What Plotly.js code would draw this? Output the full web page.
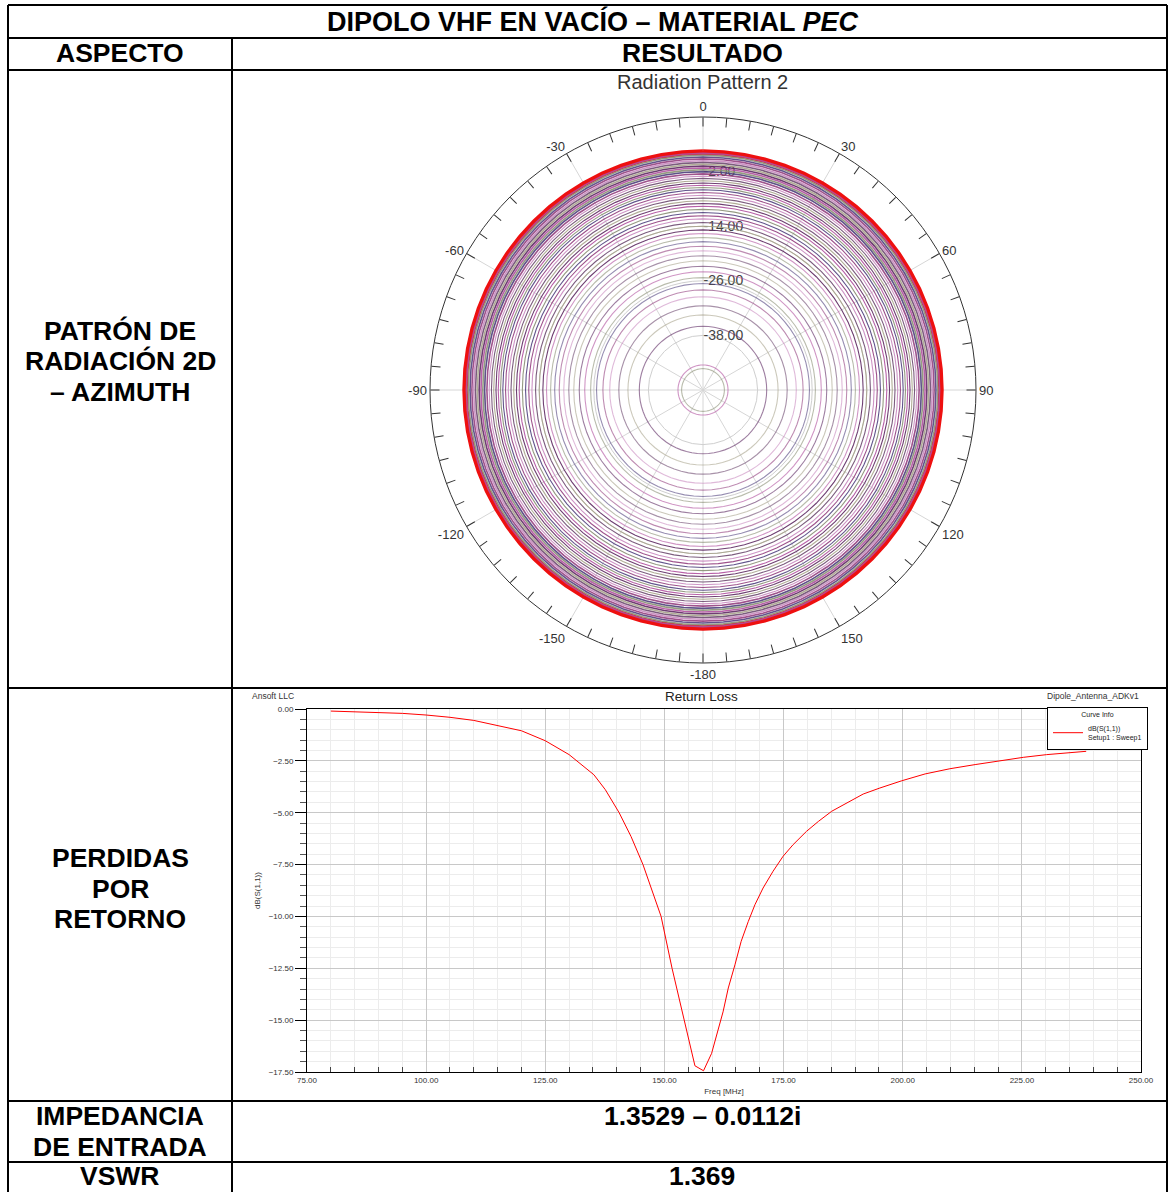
<!DOCTYPE html>
<html>
<head>
<meta charset="utf-8">
<script src="https://cdn.plot.ly/plotly-3.0.1.min.js"></script>
<style>
html,body{margin:0;padding:0;background:#fff;}
#chart{width:1168px;height:1192px;}
</style>
</head>
<body>
<div id="chart"></div>
<script>
// ---------------- DATA ----------------
// Radiation pattern (azimuth): gain levels (dB) of the swept curves
const patternLevels = [2.3, 2.0, 1.6, 1.2, 0.8, 0.4, 0.0, -0.4, -0.8, -1.2, -1.6, -2.0, -2.5, -3.0, -3.5,
  -4.0, -4.5, -5.0, -5.5, -6.0, -6.6, -7.2, -7.8, -8.4, -9.0, -9.6, -10.3, -11.0, -11.7, -12.4,
  -13.2, -14.0, -14.8, -15.6, -16.5, -17.4, -18.4, -19.4, -20.5, -21.6, -22.8, -24.0, -25.3,
  -26.6, -28.0, -29.5, -31.5, -33.5, -36.0, -44.5, -45.3];
const angleTicks = [0,5,10,15,20,25,30,35,40,45,50,55,60,65,70,75,80,85,90,95,100,105,110,115,
  120,125,130,135,140,145,150,155,160,165,170,175,180,185,190,195,200,205,210,215,220,225,230,235,
  240,245,250,255,260,265,270,275,280,285,290,295,300,305,310,315,320,325,330,335,340,345,350,355];
const angleLabelMap = {0:'0',30:'30',60:'60',90:'90',120:'120',150:'150',180:'-180',210:'-150',
  240:'-120',270:'-90',300:'-60',330:'-30'};
const gridAngles = [0,30,60,90,120,150,180,210,240,270,300,330];
const radialTicks = [-38, -26, -14, -2];
const radialLabels = ['-38.00', '-26.00', '-14.00', '-2.00'];

// Return loss dB(S(1,1)) vs frequency (MHz)
const freqMHz = [80, 85, 90, 95, 100, 105, 110, 115, 120, 125, 130, 135.2, 137.6, 140.5,
  143, 145.5, 147.4, 149.3, 151.6, 153.4, 156.4, 158.2, 159.9, 162.3, 163.4, 164.8, 166.1, 167.6,
  169, 170.7, 172.8, 174.9, 177, 179.8, 182.3, 185.1, 188.2, 191.7, 195.2, 199.8, 204.7, 209.9,
  215.2, 220.4, 225.3, 230.2, 238.5];
const s11dB = [-0.10, -0.14, -0.15, -0.21, -0.29, -0.40, -0.55, -0.79, -1.05, -1.53, -2.20,
  -3.17, -3.89, -5.00, -6.15, -7.50, -8.70, -10.00, -12.50, -14.3, -17.2, -17.44, -16.6, -14.6,
  -13.45, -12.33, -11.2, -10.24, -9.43, -8.63, -7.82, -7.10, -6.54, -5.90, -5.42, -4.93, -4.53,
  -4.10, -3.81, -3.46, -3.13, -2.88, -2.68, -2.49, -2.33, -2.20, -2.04];

// Table texts
const headerTitle = 'DIPOLO VHF EN VACÍO – MATERIAL <i>PEC</i>';
const colHeaders = ['ASPECTO', 'RESULTADO'];
const rowLabels = [['PATRÓN DE', 'RADIACIÓN 2D', '– AZIMUTH'], ['PERDIDAS', 'POR', 'RETORNO'],
  ['IMPEDANCIA', 'DE ENTRADA'], ['VSWR']];
const impedanceText = '1.3529 – 0.0112i';
const vswrText = '1.369';

// ---------------- LAYOUT HELPERS ----------------
const W = 1168, H = 1192;
const px = x => x / W;
const py = y => 1 - y / H;
const FONT = 'Liberation Sans, Arial, sans-serif';
const palette = ['#5e2a62', '#b0509f', '#8a8f74', '#51427f', '#93407f', '#c98ac0', '#6e4a70', '#a9a48c'];

const thetaPts = angleTicks.concat([360]);
const traces = [];
// empty trace so that the grid/label polar subplot is drawn
traces.push({type: 'scatterpolar', subplot: 'polar', mode: 'lines', r: [], theta: [], showlegend: false, hoverinfo: 'skip'});
patternLevels.forEach((lv, i) => {
  const isRed = i === 0;
  const outer = lv > -3;
  traces.push({
    type: 'scatterpolar', subplot: 'polar2', mode: 'lines',
    theta: thetaPts, r: thetaPts.map(() => lv),
    line: {color: isRed ? '#ee1010' : palette[i % palette.length], width: isRed ? 5.5 : (outer ? 1.6 : 1.1)},
    opacity: isRed ? 1 : (lv > -15 ? 0.9 : 0.6),
    showlegend: false, hoverinfo: 'skip'
  });
});
traces.push({
  type: 'scatter', mode: 'lines', x: freqMHz, y: s11dB, xaxis: 'x', yaxis: 'y',
  name: 'dB(S(1,1))<br>Setup1 : Sweep1', line: {color: '#ff0000', width: 1}, showlegend: true
});

const polarDomain = {x: [px(430), px(976)], y: [py(663), py(117)]};

const shapes = [];
const hline = (y, x0, x1) => shapes.push({type: 'line', xref: 'paper', yref: 'paper', x0: px(x0), x1: px(x1), y0: py(y), y1: py(y), line: {color: '#000', width: 2}});
const vline = (x, y0, y1) => shapes.push({type: 'line', xref: 'paper', yref: 'paper', x0: px(x), x1: px(x), y0: py(y0), y1: py(y1), line: {color: '#000', width: 2}});
[5, 38, 70, 688, 1101, 1162].forEach(y => hline(y, 8, 1167));
vline(8, 5, 1192); vline(1167, 5, 1192); vline(232, 38, 1192);

const ann = [];
const txt = (text, x, y, size, opts = {}) => ann.push(Object.assign({
  text, xref: 'paper', yref: 'paper', x: px(x), y: py(y), showarrow: false,
  xanchor: 'center', yanchor: 'middle',
  font: {family: FONT, size, color: opts.color || '#000'}
}, opts.extra || {}));
txt('<b>' + headerTitle + '</b>', 593, 21, 27);
txt('<b>' + colHeaders[0] + '</b>', 120, 53, 26.5);
txt('<b>' + colHeaders[1] + '</b>', 702, 53, 26.5);
rowLabels[0].forEach((t, i) => txt('<b>' + t + '</b>', 120, 331 + i * 30.5, 26.5));
rowLabels[1].forEach((t, i) => txt('<b>' + t + '</b>', 120, 858 + i * 30.5, 26.5));
rowLabels[2].forEach((t, i) => txt('<b>' + t + '</b>', 120, 1116 + i * 30.5, 26.5));
txt('<b>' + rowLabels[3][0] + '</b>', 120, 1176, 26.5);
txt('<b>' + impedanceText + '</b>', 702, 1116, 26.5);
txt('<b>' + vswrText + '</b>', 702, 1176, 26.5);
txt('Radiation Pattern 2', 702, 82, 20, {color: '#333'});
txt('Ansoft LLC', 273, 696, 8.5, {color: '#333'});
txt('Return Loss', 701, 697, 13.5, {color: '#222'});
txt('Dipole_Antenna_ADKv1', 1093, 696, 8.5, {color: '#333'});

const layout = {
  width: W, height: H, margin: {l: 0, r: 0, t: 0, b: 0},
  paper_bgcolor: '#fff', plot_bgcolor: '#fff', font: {family: FONT},
  showlegend: true,
  legend: {
    x: px(1148), xanchor: 'right', y: py(707), yanchor: 'top',
    bgcolor: '#fff', bordercolor: '#000', borderwidth: 1,
    font: {family: FONT, size: 7, color: '#222'},
    title: {text: 'Curve Info', side: 'top center', font: {family: FONT, size: 7, color: '#222'}},
    itemwidth: 30, tracegroupgap: 0
  },
  polar: {
    domain: polarDomain, bgcolor: '#fff',
    angularaxis: {rotation: 90, direction: 'clockwise', tickvals: gridAngles, showticklabels: false,
      ticks: '', showline: false, showgrid: true, gridcolor: '#d6d6d6', gridwidth: 1},
    radialaxis: {range: [-50, 10], tickvals: radialTicks, ticktext: radialLabels, angle: 90,
      tickangle: 90, showline: false, ticks: '', showgrid: true, gridcolor: '#cfcfcf',
      tickfont: {family: FONT, size: 14, color: '#444'}}
  },
  polar2: {
    domain: polarDomain, bgcolor: 'rgba(0,0,0,0)',
    angularaxis: {rotation: 90, direction: 'clockwise', tickvals: angleTicks,
      ticktext: angleTicks.map(a => angleLabelMap[a] !== undefined ? angleLabelMap[a] : ''),
      ticks: 'inside', ticklen: 9, tickcolor: '#333', tickwidth: 1,
      showline: true, linecolor: '#333', linewidth: 1, showgrid: false,
      tickfont: {family: FONT, size: 13, color: '#333'}},
    radialaxis: {range: [-50, 10], visible: false}
  },
  xaxis: {
    domain: [px(307), px(1141)], range: [75, 250], tick0: 75, dtick: 25, tickformat: '.2f',
    showline: true, mirror: true, linecolor: '#000', linewidth: 1,
    showgrid: true, gridcolor: '#c8c8c8', zeroline: false, ticks: '',
    tickfont: {family: FONT, size: 8, color: '#333'},
    minor: {dtick: 5, showgrid: true, gridcolor: '#ececec', ticks: 'inside', ticklen: 5, tickcolor: '#444'},
    title: {text: 'Freq [MHz]', font: {family: FONT, size: 8, color: '#333'}, standoff: 4}
  },
  yaxis: {
    domain: [py(1072), py(709)], range: [-17.5, 0], tick0: 0, dtick: 2.5, tickformat: '.2f',
    showline: true, mirror: true, linecolor: '#000', linewidth: 1,
    showgrid: true, gridcolor: '#c8c8c8', zeroline: false, ticks: 'outside', ticklen: 11, tickcolor: '#000',
    tickfont: {family: FONT, size: 8, color: '#333'},
    minor: {dtick: 0.5, showgrid: true, gridcolor: '#ececec', ticks: 'outside', ticklen: 6, tickcolor: '#555'},
    title: {text: 'dB(S(1,1))', font: {family: FONT, size: 8, color: '#333'}, standoff: 6}
  },
  shapes, annotations: ann
};

Plotly.newPlot('chart', traces, layout, {displayModeBar: false, staticPlot: true});
</script>
</body>
</html>
